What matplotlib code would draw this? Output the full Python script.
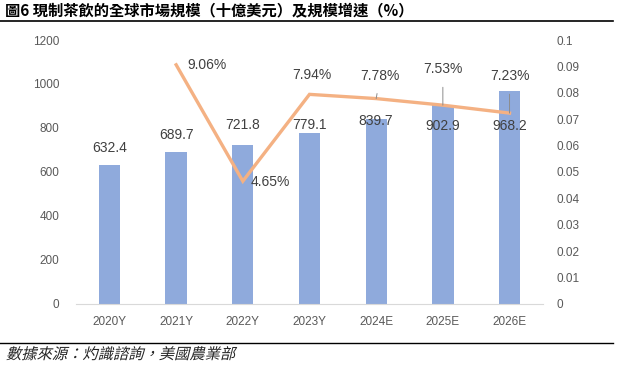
import matplotlib
matplotlib.use('Agg')
import matplotlib.pyplot as plt
from matplotlib.textpath import TextPath
from matplotlib.font_manager import FontProperties
from matplotlib.patches import PathPatch
from matplotlib.transforms import Affine2D

plt.rcParams['font.family'] = ['Liberation Sans', 'Noto Sans CJK TC', 'DejaVu Sans']

years = ['2020Y', '2021Y', '2022Y', '2023Y', '2024E', '2025E', '2026E']
market = [632.4, 689.7, 721.8, 779.1, 839.7, 902.9, 968.2]
growth_years = years[1:]
growth = [0.0906, 0.0465, 0.0794, 0.0778, 0.0753, 0.0723]
right_ticks = [0, 0.01, 0.02, 0.03, 0.04, 0.05, 0.06, 0.07, 0.08, 0.09, 0.1]
right_labels = ['0', '0.01', '0.02', '0.03', '0.04', '0.05', '0.06', '0.07', '0.08', '0.09', '0.1']

title = '圖6 現制茶飲的全球市場規模（十億美元）及規模增速（%）'
source = '數據來源：灼識諮詢，美國農業部'

text_c = '#404040'
tick_c = '#595959'

fig = plt.figure(figsize=(6.19, 3.67), dpi=100)
ax = fig.add_axes([0.123, 0.172, 0.754, 0.719])
ax2 = ax.twinx()

x = list(range(len(years)))
bars = ax.bar(x, market, width=0.32, color='#8FAADC', zorder=2)
ax.set_xlim(-0.5, 6.5)
ax.set_ylim(0, 1200)
ax.set_yticks(range(0, 1201, 200))
ax.set_xticks(x)
ax.set_xticklabels(years)

# bar labels, offsets in pixels from bar top (hand placed as in the source)
bar_off = [17, 17, 20, 8, -2, -21, -35]
for xi, v, dy in zip(x, market, bar_off):
    ax.annotate(f'{v:.1f}', (xi, v), xytext=(0, dy), textcoords='offset pixels',
                ha='center', va='center', fontsize=10, color=text_c, zorder=5)

gx = [years.index(y) for y in growth_years]
ax2.plot(gx, growth, color='#F4B183', lw=2.4, zorder=3, solid_joinstyle='miter')
ax2.set_ylim(0, 0.1)
ax2.set_yticks(right_ticks)
ax2.set_yticklabels(right_labels)

line_off = [(31, 0), (27, -1), (2, 19), (4, 23), (0, 36), (0, 37)]
leader = [False, False, False, True, True, True]
for xi, g, (dx, dy), ld in zip(gx, growth, line_off, leader):
    kw = {}
    if ld:
        kw['arrowprops'] = dict(arrowstyle='-', color='#8c8c8c', lw=0.7,
                                shrinkA=6, shrinkB=0)
    ax2.annotate(f'{g * 100:.2f}%', (xi, g), xytext=(dx, dy), textcoords='offset pixels',
                 ha='center', va='center', fontsize=10, color=text_c, zorder=5, **kw)

for a in (ax, ax2):
    for s in a.spines.values():
        s.set_visible(False)
    a.tick_params(length=0, labelsize=8.5, labelcolor=tick_c)
ax.spines['bottom'].set_visible(True)
ax.spines['bottom'].set_color('#d9d9d9')
ax.tick_params(axis='x', pad=9)
ax.tick_params(axis='y', pad=12)
ax2.tick_params(axis='y', pad=10)

# title and source
fig.text(0.008, 0.972, title, fontsize=11, fontweight='bold', color='black',
         family=['Noto Sans CJK TC'], va='center', ha='left')
fig.add_artist(plt.Line2D([0, 0.99], [0.943, 0.943], color='black', lw=1.2))
fig.add_artist(plt.Line2D([0, 0.99], [0.066, 0.066], color='black', lw=1.0))

fp = FontProperties(family='Noto Sans CJK TC', size=11)
tp = TextPath((0, 0), source, prop=fp)
tr = Affine2D().skew_deg(14, 0).scale(100 / 72).translate(6, 367 - 359)
fig.add_artist(PathPatch(tp, transform=tr, color='#262626', lw=0))

fig.savefig('out.png', dpi=100)
